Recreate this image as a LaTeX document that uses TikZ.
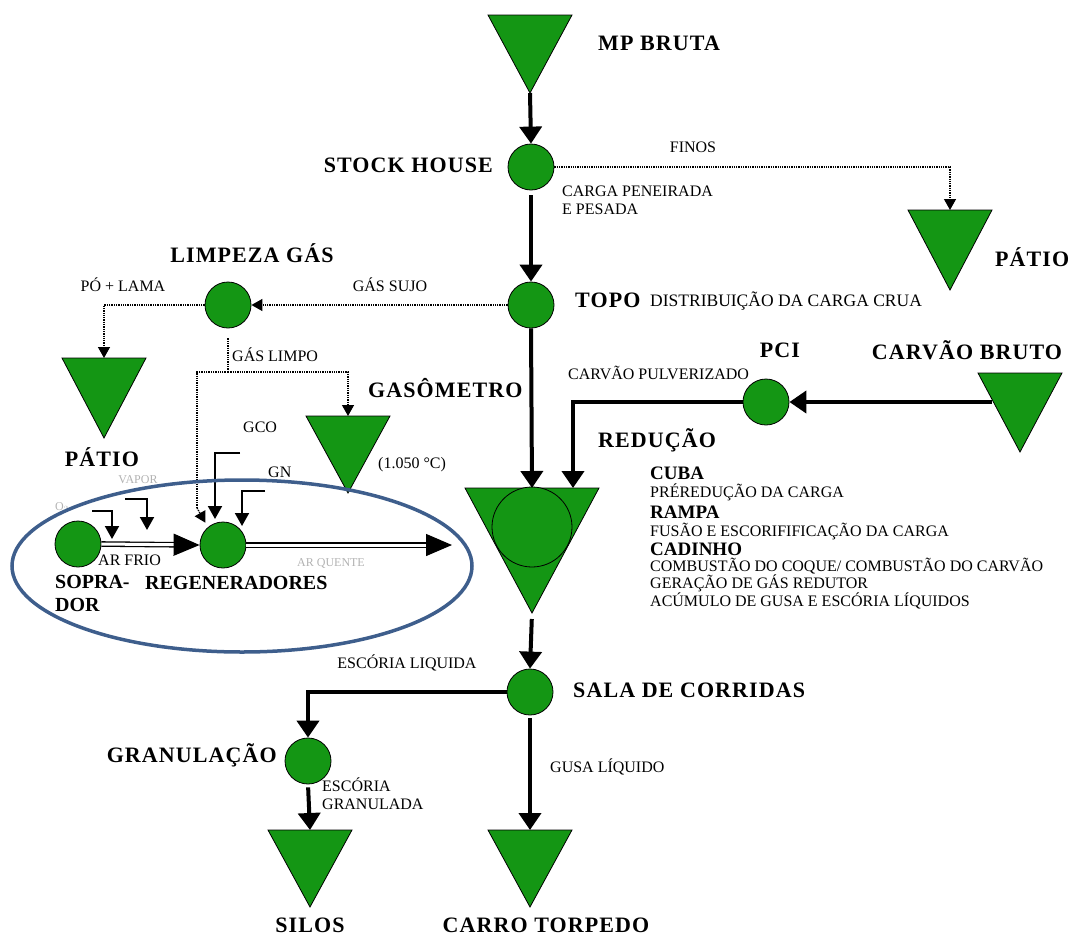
\documentclass[tikz,border=0pt]{standalone}
\usepackage{fontspec}
\setmainfont{Liberation Serif}
\newfontfamily\spacedfont{Liberation Serif}[LetterSpace=5]
\usetikzlibrary{arrows.meta,calc}
\definecolor{forno}{RGB}{20,150,20}
\definecolor{oval}{RGB}{62,94,140}

% silo: name, x, top y, half width, height
\newcommand{\silo}[5]{%
  \draw[silofill] (#2-#4,#3) -- (#2+#4,#3) -- (#2,#3+#5) -- cycle;
  \coordinate (#1) at (#2,#3);
  \coordinate (#1-b) at (#2,#3+#5);}

\tikzset{
  silofill/.style={fill=forno, draw=black, line width=0.8pt},
  stage/.style={circle, fill=forno, draw=black, line width=0.8pt, minimum size=46pt, inner sep=0pt},
  lbl/.style={font=\spacedfont\bfseries\fontsize{22}{24}\selectfont, inner sep=0pt},
  tightlbl/.style={font=\bfseries\fontsize{20}{22}\selectfont, inner sep=0pt},
  sub/.style={font=\bfseries\fontsize{19}{21}\selectfont, inner sep=0pt},
  txt/.style={font=\fontsize{16}{18}\selectfont, inner sep=0pt},
  faint/.style={font=\fontsize{12}{14}\selectfont, text=gray!60, inner sep=0pt},
  flow/.style={line width=4pt, -{Triangle[length=17pt,width=22pt]}},
  gas/.style={densely dotted, line width=1.3pt},
  gasarrow/.style={gas, -{Triangle[length=11pt,width=12pt]}},
  feed/.style={line width=2pt, -{Triangle[length=13pt,width=14pt]}},
  air/.style={double=white, double distance=3pt, line width=1.3pt, -{Triangle[length=26pt,width=22pt]}},
}

\begin{document}
\begin{tikzpicture}[x=1pt,y=-1pt]
\useasboundingbox (0,0) rectangle (1071,935);
	%silos
	\silo{mpb}{530}{15}{42}{78}
	\silo{patioR}{950}{210}{42}{80}
	\silo{patioL}{104}{358}{42}{80}
	\silo{gaso}{348}{416}{42}{77}
	\silo{carvao}{1020}{373}{42}{79}
	\silo{reduc}{532}{488}{67}{125}
	\silo{silos}{310}{830}{42}{77}
	\silo{carro}{530}{830}{42}{77}
	%stages
	\node[stage] (stock) at (531,167) {};
	\node[stage] (topo) at (531,305) {};
	\node[stage] (limp) at (228,305) {};
	\node[stage] (pci) at (766,402) {};
	\node[stage] (regen) at (223,545) {};
	\node[stage] (sopr) at (78,544) {};
	\node[stage] (sala) at (530,692) {};
	\node[stage] (gran) at (308,761) {};
	\node[stage, minimum size=80pt] (cuba) at (532,527) {};
	\coordinate (reduc-r) at (573,488);
	\coordinate (carvao-in) at (992,402);
	\coordinate (split) at (228,372);
	\coordinate (regen-in) at (197,508);
	\coordinate (quente) at (452,545);
	\coordinate (o2a) at (92,511);    \coordinate (o2b) at (112,539);
	\coordinate (vapa) at (125,499);  \coordinate (vapb) at (147,530);
	\coordinate (gcoa) at (240,453);  \coordinate (gcob) at (215,519);
	\coordinate (gna) at (265,491);   \coordinate (gnb) at (242,526);
	%main flow
	\draw[flow] (mpb-b) -- (stock.north);
	\draw[flow, shorten <=5pt] (stock.south) -- (topo.north);
	\draw[flow] (topo.south) -- (reduc);
	\draw[flow] (carvao-in) -- (pci.east);
	\draw[flow] (pci.west) -| (reduc-r);
	\draw[flow, shorten <=6pt] (reduc-b) -- (sala.north);
	\draw[flow] (sala.west) -| (gran.north);
	\draw[flow, shorten <=3pt] (gran.south) -- (silos);
	\draw[flow, shorten <=3pt] (sala.south) -- (carro);
	%gas
	\draw[gasarrow] (stock.east) -| (patioR);
	\draw[gasarrow] (topo.west) -- (limp.east);
	\draw[gasarrow] (limp.west) -| (patioL);
	\draw[gas, shorten <=10pt] (limp.south) -- (split);
	\draw[gasarrow] (split) -| (gaso);
	\draw[gas] (split) -| (regen-in);
	\draw[gasarrow, shorten >=5pt] (regen-in) -- (regen.130);
	%blast air
	\draw[feed] (o2a) -| (o2b);
	\draw[feed] (vapa) -| (vapb);
	\draw[feed] (gcoa) -| (gcob);
	\draw[feed] (gna) -| (gnb);
	\draw[air] (sopr.east) -- (regen.west);
	\draw[air] (regen.east) -- (quente);
	%labels
	\node[lbl, anchor=west] (l-mp) at (598,43) {MP BRUTA};
	\node[lbl, anchor=east] (l-stock) at (493,165) {STOCK HOUSE};
	\node[txt] (l-finos) at (693,147) {FINOS};
	\node[txt, anchor=north west, align=left] (l-carga) at (562,186) {CARGA PENEIRADA\\E PESADA};
	\node[lbl, anchor=west] (l-patioR) at (995,257) {PÁTIO};
	\node[lbl] (l-limp) at (252,253) {LIMPEZA GÁS};
	\node[txt] (l-po) at (123,285) {PÓ + LAMA};
	\node[txt] (l-sujo) at (390,285) {GÁS SUJO};
	\node[lbl, anchor=west] (l-topo) at (575,300) {TOPO};
	\node[txt, anchor=west, font=\fontsize{17.5}{19}\selectfont] (l-dist) at (650,301) {DISTRIBUIÇÃO DA CARGA CRUA};
	\node[txt, anchor=west] (l-limpo) at (232,355) {GÁS LIMPO};
	\node[lbl] (l-pci) at (780,350) {PCI};
	\node[lbl] (l-carvao) at (967,350) {CARVÃO BRUTO};
	\node[txt, anchor=west] (l-pulv) at (568,373) {CARVÃO PULVERIZADO};
	\node[lbl, anchor=west] (l-gaso) at (368,388) {GASÔMETRO};
	\node[lbl] (l-patioL) at (102,457) {PÁTIO};
	\node[lbl, anchor=west] (l-reduc) at (598,440) {REDUÇÃO};
	\node[txt, anchor=west] (l-gco) at (243,427) {GCO};
	\node[txt, anchor=west] (l-temp) at (378,465) {(1.050 °C)};
	\node[txt, anchor=west] (l-gn) at (268,472) {GN};
	\node[faint] (l-vapor) at (138,480) {VAPOR};
	\node[faint, anchor=west] (l-o2) at (55,507) {O$_2$};
	\node[txt, anchor=west] (l-frio) at (98,560) {AR FRIO};
	\node[faint] (l-quente) at (331,563) {AR QUENTE};
	\node[tightlbl, anchor=west] (l-sopr) at (55,582) {SOPRA-};
	\node[tightlbl, anchor=west] (l-dor) at (55,605) {DOR};
	\node[tightlbl, anchor=west] (l-regen) at (145,583) {REGENERADORES};
	%reduction zones
	\node[sub, anchor=west] (z-cuba) at (650,473) {CUBA};
	\node[txt, anchor=west] (z-cuba2) at (650,492) {PRÉREDUÇÃO DA CARGA};
	\node[sub, anchor=west] (z-rampa) at (650,512) {RAMPA};
	\node[txt, anchor=west] (z-rampa2) at (650,531) {FUSÃO E ESCORIFIFICAÇÃO DA CARGA};
	\node[sub, anchor=west] (z-cad) at (650,549) {CADINHO};
	\node[txt, anchor=west] (z-cad2) at (650,566) {COMBUSTÃO DO COQUE/ COMBUSTÃO DO CARVÃO};
	\node[txt, anchor=west] (z-cad3) at (650,583) {GERAÇÃO DE GÁS REDUTOR};
	\node[txt, anchor=west] (z-cad4) at (650,601) {ACÚMULO DE GUSA E ESCÓRIA LÍQUIDOS};
	\node[txt] (l-escl) at (407,663) {ESCÓRIA LIQUIDA};
	\node[lbl, anchor=west] (l-sala) at (573,690) {SALA DE CORRIDAS};
	\node[lbl, anchor=east] (l-gran) at (277,755) {GRANULAÇÃO};
	\node[txt, anchor=west] (l-gusa) at (550,767) {GUSA LÍQUIDO};
	\node[txt, anchor=north west, align=left] (l-escg) at (322,778) {ESCÓRIA\\GRANULADA};
	\node[lbl] (l-silos) at (310,925) {SILOS};
	\node[lbl] (l-carro) at (546,925) {CARRO TORPEDO};
	%ellipse
	\draw[oval, line width=3.5pt] (242,566) ellipse [x radius=230pt, y radius=86pt];
\end{tikzpicture}
\end{document}
